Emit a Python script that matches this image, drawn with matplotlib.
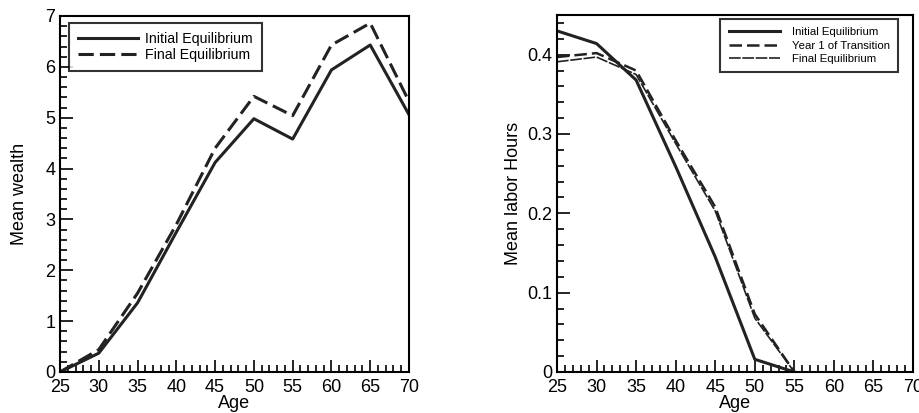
import numpy as np
import matplotlib.pyplot as plt
from matplotlib.ticker import MultipleLocator

plt.rcParams['font.family'] = ['Liberation Sans', 'DejaVu Sans']

age = [25, 30, 35, 40, 45, 50, 55, 60, 65, 70]
wealth_init = [0.0, 0.37, 1.36, 2.75, 4.12, 4.98, 4.58, 5.94, 6.43, 5.06]
wealth_final = [0.0, 0.44, 1.55, 2.9, 4.4, 5.42, 5.04, 6.43, 6.86, 5.32]

age_lab = [25, 30, 35, 40, 45, 50, 55]
hours_init = [0.43, 0.414, 0.368, 0.259, 0.145, 0.016, 0.0]
hours_year1 = [0.397, 0.402, 0.38, 0.292, 0.208, 0.073, 0.0]
hours_final = [0.391, 0.397, 0.375, 0.288, 0.203, 0.068, 0.0]

fig = plt.figure(figsize=(9.19, 4.13), dpi=100)
ax1 = fig.add_axes([60/919, 1 - 372/413, 349/919, 356/413])
ax2 = fig.add_axes([557/919, 1 - 372/413, 356/919, 357/413])

ax1.plot(age, wealth_init, color='#222222', lw=2.2, label='Initial Equilibrium')
ax1.plot(age, wealth_final, color='#222222', lw=2.2, dashes=(5, 2), label='Final Equilibrium')
ax1.set_xlim(25, 70)
ax1.set_ylim(0, 7)
ax1.yaxis.set_major_locator(MultipleLocator(1))
ax1.yaxis.set_minor_locator(MultipleLocator(0.2))
ax1.set_ylabel('Mean wealth', fontsize=13, labelpad=12)
ax1.legend(loc='upper left', bbox_to_anchor=(0.026, 0.981), borderaxespad=0,
           fontsize=10.2, frameon=True, fancybox=False, edgecolor='black',
           handlelength=4.2, handletextpad=0.55, labelspacing=0.13, borderpad=0.64)

ax2.plot(age_lab, hours_init, color='#222222', lw=2.2, label='Initial Equilibrium')
ax2.plot(age_lab, hours_year1, color='#222222', lw=1.8, dashes=(5, 2), label='Year 1 of Transition')
ax2.plot(age_lab, hours_final, color='#222222', lw=1.2, dashes=(7, 1), label='Final Equilibrium')
ax2.set_xlim(25, 70)
ax2.set_ylim(0, 0.45)
ax2.yaxis.set_major_locator(MultipleLocator(0.1))
ax2.yaxis.set_minor_locator(MultipleLocator(0.02))
ax2.set_yticks([0, 0.1, 0.2, 0.3, 0.4])
ax2.set_yticklabels(['0', '0.1', '0.2', '0.3', '0.4'])
ax2.set_ylabel('Mean labor Hours', fontsize=13, labelpad=4)
ax2.legend(loc='upper right', bbox_to_anchor=(0.958, 0.989), borderaxespad=0,
           fontsize=8.2, frameon=True, fancybox=False, edgecolor='black',
           handlelength=4.5, handletextpad=1.0, labelspacing=0.27, borderpad=0.75)

for ax in (ax1, ax2):
    ax.xaxis.set_major_locator(MultipleLocator(5))
    ax.xaxis.set_minor_locator(MultipleLocator(1))
    ax.tick_params(which='both', direction='in', top=False, right=False,
                   labelsize=13, width=1.2)
    ax.tick_params(which='major', length=9)
    ax.tick_params(which='minor', length=5)
    ax.tick_params(axis='x', pad=5)
    ax.set_xlabel('Age', fontsize=13, labelpad=-1)
    for s in ax.spines.values():
        s.set_linewidth(1.5)
    ax.get_legend().get_frame().set_linewidth(1.5)

fig.savefig('out.png', dpi=100)
